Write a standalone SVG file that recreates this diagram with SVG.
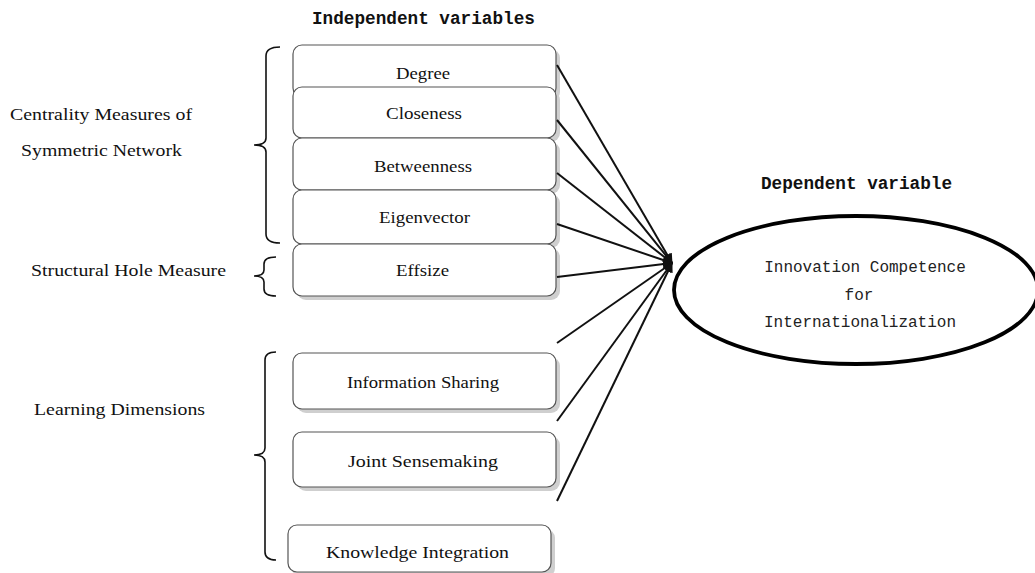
<svg xmlns="http://www.w3.org/2000/svg" width="1035" height="573" viewBox="0 0 1035 573">
<style>
.box{fill:#fff;stroke:#555;stroke-width:1.2}
.sh{fill:#cfcfcf}
.t{font-family:"Liberation Serif",serif;font-size:17px;fill:#111}
.l{font-family:"Liberation Serif",serif;font-size:17.5px;fill:#111}
.h{font-family:"Liberation Mono",monospace;font-size:17.7px;font-weight:bold;fill:#111}
.m{font-family:"Liberation Mono",monospace;font-size:16px;fill:#222;text-anchor:middle}
.br{fill:none;stroke:#111;stroke-width:1.6}
.c{stroke:#111;stroke-width:2;fill:none;marker-end:url(#ah)}
</style>
<defs>
<marker id="ah" viewBox="0 0 10 10" refX="9" refY="5" markerWidth="5" markerHeight="5" orient="auto" markerUnits="strokeWidth">
<path d="M0,0 L10,5 L0,10 z" fill="#111"/>
</marker>
</defs>
<rect width="1035" height="573" fill="#fff"/>
<text class="h" x="312" y="24">Independent variables</text>
<text class="h" x="761" y="189">Dependent variable</text>
<g id="labels">
<text class="l" x="10" y="120" textLength="182" lengthAdjust="spacingAndGlyphs">Centrality Measures of</text>
<text class="l" x="21" y="156" textLength="161" lengthAdjust="spacingAndGlyphs">Symmetric Network</text>
<text class="l" x="31" y="276" textLength="195" lengthAdjust="spacingAndGlyphs">Structural Hole Measure</text>
<text class="l" x="34" y="415" textLength="171" lengthAdjust="spacingAndGlyphs">Learning Dimensions</text>
</g>
<g id="braces">
<path class="br" d="M280,47 Q266,47 266,56 V138 Q266,145 254,145 Q266,145 266,152 V234 Q266,243 280,243"/>
<path class="br" d="M276,257 Q264,257 264,264 V270 Q264,276 254,276 Q264,276 264,282 V289 Q264,296 276,296"/>
<path class="br" d="M276,352 Q265,352 265,360 V448 Q265,455 254,455 Q265,455 265,462 V552 Q265,560 276,560"/>
</g>
<g id="degree"><rect class="sh" x="297" y="49" width="263" height="52" rx="9"/><rect class="box" x="293" y="45" width="263" height="52" rx="9"/><text class="t" x="396" y="79" textLength="54" lengthAdjust="spacingAndGlyphs">Degree</text></g>
<g id="closeness"><rect class="sh" x="297" y="91" width="263" height="51" rx="9"/><rect class="box" x="293" y="87" width="263" height="51" rx="9"/><text class="t" x="386" y="119" textLength="76" lengthAdjust="spacingAndGlyphs">Closeness</text></g>
<g id="betweenness"><rect class="sh" x="297" y="142" width="263" height="52" rx="9"/><rect class="box" x="293" y="138" width="263" height="52" rx="9"/><text class="t" x="374" y="172" textLength="98" lengthAdjust="spacingAndGlyphs">Betweenness</text></g>
<g id="eigenvector"><rect class="sh" x="297" y="194" width="263" height="54" rx="9"/><rect class="box" x="293" y="190" width="263" height="54" rx="9"/><text class="t" x="379" y="223" textLength="91" lengthAdjust="spacingAndGlyphs">Eigenvector</text></g>
<g id="effsize"><rect class="sh" x="297" y="248" width="263" height="52" rx="9"/><rect class="box" x="293" y="244" width="263" height="52" rx="9"/><text class="t" x="396" y="276" textLength="53" lengthAdjust="spacingAndGlyphs">Effsize</text></g>
<g id="info"><rect class="sh" x="297" y="357" width="263" height="56" rx="9"/><rect class="box" x="293" y="353" width="263" height="56" rx="9"/><text class="t" x="347" y="388" textLength="152" lengthAdjust="spacingAndGlyphs">Information Sharing</text></g>
<g id="joint"><rect class="sh" x="297" y="436" width="263" height="55" rx="9"/><rect class="box" x="293" y="432" width="263" height="55" rx="9"/><text class="t" x="348" y="467" textLength="150" lengthAdjust="spacingAndGlyphs">Joint Sensemaking</text></g>
<g id="knowledge"><rect class="sh" x="292" y="529" width="263" height="48" rx="9"/><rect class="box" x="288" y="525" width="263" height="47" rx="9"/><text class="t" x="326" y="558" textLength="183" lengthAdjust="spacingAndGlyphs">Knowledge Integration</text></g>
<g id="connectors">
<line class="c" x1="557" y1="65" x2="672" y2="263"/>
<line class="c" x1="557" y1="120" x2="672" y2="263"/>
<line class="c" x1="557" y1="173" x2="672" y2="263"/>
<line class="c" x1="557" y1="224" x2="672" y2="263"/>
<line class="c" x1="557" y1="277" x2="672" y2="263"/>
<line class="c" x1="557" y1="343" x2="672" y2="263"/>
<line class="c" x1="557" y1="421" x2="672" y2="263"/>
<line class="c" x1="557" y1="501" x2="672" y2="263"/>
</g>
<g id="dependent">
<ellipse cx="856" cy="290" rx="182" ry="74" fill="#fff" stroke="#000" stroke-width="3.8"/>
<text class="m" x="865" y="272">Innovation Competence</text>
<text class="m" x="859" y="300">for</text>
<text class="m" x="860" y="327">Internationalization</text>
</g>
</svg>
